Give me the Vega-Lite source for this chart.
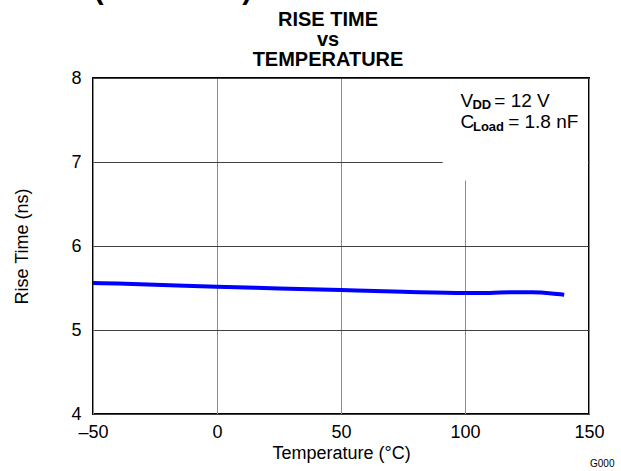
{
  "$schema": "https://vega.github.io/schema/vega-lite/v6.json",
  "autosize": {"type": "none"},
  "width": 496,
  "height": 336,
  "padding": {"left": 93, "top": 78, "right": 32, "bottom": 57},
  "background": "white",
  "title": {
    "text": ["RISE TIME", "vs", "TEMPERATURE"],
    "font": "Liberation Sans",
    "fontSize": 20,
    "fontWeight": "bold",
    "lineHeight": 20,
    "anchor": "middle",
    "dx": -13,
    "offset": -94,
    "color": "black"
  },
  "datasets": {
    "curve": [
      {"x": -50, "y": 5.56},
      {"x": -40, "y": 5.553},
      {"x": -25, "y": 5.54},
      {"x": 0, "y": 5.515},
      {"x": 25, "y": 5.495},
      {"x": 50, "y": 5.475},
      {"x": 75, "y": 5.455},
      {"x": 100, "y": 5.44},
      {"x": 110, "y": 5.44},
      {"x": 118, "y": 5.45},
      {"x": 127, "y": 5.448},
      {"x": 135, "y": 5.435},
      {"x": 140, "y": 5.42}
    ],
    "box": [{"x": 91, "x2": 149.6, "y": 6.78, "y2": 7.988}],
    "notes": [
      {"x": 98.2, "y": 7.658, "t": "V"},
      {"x": 111.8, "y": 7.658, "t": "= 12 V"},
      {"x": 98.2, "y": 7.4, "t": "C"},
      {"x": 117.4, "y": 7.4, "t": "= 1.8 nF"}
    ],
    "subs": [
      {"x": 103.0, "y": 7.63, "t": "DD"},
      {"x": 103.2, "y": 7.375, "t": "Load"}
    ],
    "code": [{"x": 150.4, "y": 3.37, "t": "G000"}],
    "header": [{"x": 14.1, "y": 8.94, "t": "TYPICAL CHARACTERISTICS (continued)"}]
  },
  "encoding": {
    "x": {
      "field": "x",
      "type": "quantitative",
      "scale": {"domain": [-50, 150], "nice": false, "zero": false},
      "axis": {
        "title": "Temperature (°C)",
        "values": [-50, 0, 50, 100, 150],
        "grid": true,
        "gridColor": "#8c8c8c",
        "gridWidth": 1,
        "gridOpacity": 1,
        "domain": false,
        "ticks": false,
        "labelFont": "Liberation Sans",
        "labelFontSize": 18,
        "labelColor": "black",
        "labelPadding": 9,
        "labelFlush": false,
        "labelOverlap": false,
        "labelExpr": "datum.value < 0 ? '–' + abs(datum.value) : datum.label",
        "titleFont": "Liberation Sans",
        "titleFontSize": 18,
        "titleFontWeight": "normal",
        "titleColor": "black",
        "titlePadding": 3
      }
    },
    "y": {
      "field": "y",
      "type": "quantitative",
      "scale": {"domain": [4, 8], "nice": false, "zero": false},
      "axis": {
        "title": "Rise Time (ns)",
        "values": [4, 5, 6, 7, 8],
        "grid": true,
        "gridColor": "#404040",
        "gridWidth": 1,
        "gridOpacity": 1,
        "domain": false,
        "ticks": false,
        "labelFont": "Liberation Sans",
        "labelFontSize": 18,
        "labelColor": "black",
        "labelPadding": 12,
        "labelOverlap": false,
        "titleFont": "Liberation Sans",
        "titleFontSize": 18,
        "titleFontWeight": "normal",
        "titleColor": "black",
        "titlePadding": 39
      }
    }
  },
  "layer": [
    {
      "data": {"name": "box"},
      "mark": {"type": "rect", "fill": "white", "stroke": null},
      "encoding": {
        "x2": {"field": "x2"},
        "y2": {"field": "y2"}
      }
    },
    {
      "data": {"name": "curve"},
      "mark": {"type": "line", "color": "#0000ff", "strokeWidth": 4, "interpolate": "monotone"}
    },
    {
      "data": {"name": "notes"},
      "mark": {"type": "text", "font": "Liberation Sans", "fontSize": 19, "align": "left", "baseline": "alphabetic", "color": "black"},
      "encoding": {"text": {"field": "t"}}
    },
    {
      "data": {"name": "subs"},
      "mark": {"type": "text", "font": "Liberation Sans", "fontSize": 13, "fontWeight": "bold", "align": "left", "baseline": "alphabetic", "color": "black"},
      "encoding": {"text": {"field": "t"}}
    },
    {
      "data": {"name": "code"},
      "mark": {"type": "text", "font": "Liberation Sans", "fontSize": 10, "align": "left", "baseline": "alphabetic", "color": "black"},
      "encoding": {"text": {"field": "t"}}
    },
    {
      "data": {"name": "header"},
      "mark": {"type": "text", "font": "Liberation Sans", "fontSize": 29, "fontWeight": "bold", "align": "right", "baseline": "alphabetic", "color": "black"},
      "encoding": {"text": {"field": "t"}}
    }
  ],
  "config": {
    "view": {"stroke": "black", "strokeWidth": 2},
    "font": "Liberation Sans"
  }
}
